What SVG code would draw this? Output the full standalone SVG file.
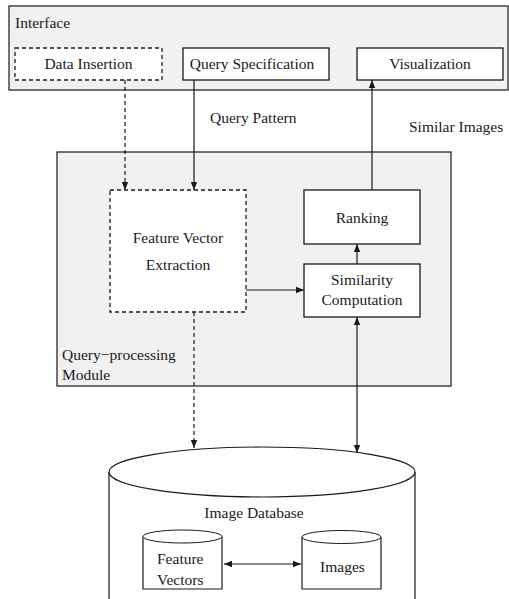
<svg xmlns="http://www.w3.org/2000/svg" width="509" height="599" viewBox="0 0 509 599">
  <style>
    text { font-size: 15.5px; fill: #1a1a1a; }
    .mid { text-anchor: middle; }
    .panel { fill: #f1f1f1; stroke: #2a2a2a; stroke-width: 1.3; }
    .box { fill: #ffffff; stroke: #1a1a1a; stroke-width: 1.3; }
    .dash { stroke-dasharray: 4 3; }
    .wire { fill: none; stroke: #1a1a1a; stroke-width: 1.2; }
  </style>
  <defs>
    <marker id="arrow" viewBox="0 0 10 10" refX="10" refY="5" markerWidth="8" markerHeight="8" markerUnits="userSpaceOnUse" orient="auto-start-reverse">
      <path d="M0,1 L10,5 L0,9 Z" fill="#1a1a1a"/>
    </marker>
  </defs>

  <g font-family="'Liberation Serif', 'Times New Roman', 'DejaVu Serif', serif">
  <!-- Interface panel -->
  <g id="interface">
    <rect class="panel" x="9" y="6" width="499" height="84"/>
    <text x="15" y="28">Interface</text>
  </g>
  <g id="data-insertion">
    <rect class="box dash" x="15" y="48" width="147" height="32"/>
    <text class="mid" x="88.5" y="69">Data Insertion</text>
  </g>
  <g id="query-specification">
    <rect class="box" x="183" y="48" width="146" height="32"/>
    <text class="mid" x="252" y="69">Query Specification</text>
  </g>
  <g id="visualization">
    <rect class="box" x="357" y="48" width="146" height="32"/>
    <text class="mid" x="430" y="69">Visualization</text>
  </g>

  <!-- Query-processing module -->
  <g id="query-processing">
    <rect class="panel" x="57" y="152" width="394" height="234"/>
    <text x="62" y="360">Query−processing</text>
    <text x="62" y="380">Module</text>
  </g>
  <g id="feature-vector-extraction">
    <rect class="box dash" x="110" y="190" width="136" height="122"/>
    <text class="mid" x="178" y="243">Feature Vector</text>
    <text class="mid" x="178" y="270">Extraction</text>
  </g>
  <g id="ranking">
    <rect class="box" x="304" y="190" width="116" height="54"/>
    <text class="mid" x="362" y="223">Ranking</text>
  </g>
  <g id="similarity-computation">
    <rect class="box" x="304" y="264" width="116" height="53"/>
    <text class="mid" x="362" y="285">Similarity</text>
    <text class="mid" x="362" y="305">Computation</text>
  </g>

  <!-- Image database -->
  <g id="image-database">
    <path class="wire" d="M109,472 L109,600 M415,472 L415,600"/>
    <ellipse cx="262" cy="472" rx="153" ry="25" fill="#ffffff" stroke="#1a1a1a" stroke-width="1.2"/>
    <text class="mid" x="254" y="518">Image Database</text>
  </g>
  <g id="feature-vectors">
    <path d="M143,536.5 L143,589 L222,589 L222,536.5" fill="#ffffff" stroke="#1a1a1a" stroke-width="1.2"/>
    <ellipse cx="182.5" cy="536.5" rx="39.5" ry="6.5" fill="#ffffff" stroke="#1a1a1a" stroke-width="1"/>
    <text x="157" y="564">Feature</text>
    <text x="157" y="585">Vectors</text>
  </g>
  <g id="images">
    <path d="M302,537 L302,589 L381,589 L381,537" fill="#ffffff" stroke="#1a1a1a" stroke-width="1.2"/>
    <ellipse cx="341.5" cy="537" rx="39.5" ry="6.5" fill="#ffffff" stroke="#1a1a1a" stroke-width="1"/>
    <text class="mid" x="342.5" y="572">Images</text>
  </g>

  <!-- Connectors -->
  <g id="connectors">
    <path class="wire dash" d="M125,80 L125,190" marker-end="url(#arrow)"/>
    <path class="wire" d="M194,80 L194,190" marker-end="url(#arrow)"/>
    <path class="wire" d="M372,190 L372,80" marker-end="url(#arrow)"/>
    <path class="wire" d="M246,290 L304,290" marker-end="url(#arrow)"/>
    <path class="wire" d="M357,264 L357,244" marker-end="url(#arrow)"/>
    <path class="wire dash" d="M194,312 L194,448" marker-end="url(#arrow)"/>
    <path class="wire" d="M357,453 L357,317" marker-start="url(#arrow)" marker-end="url(#arrow)"/>
    <path class="wire" d="M224,564 L301,564" marker-start="url(#arrow)" marker-end="url(#arrow)"/>
    <text x="210" y="123">Query Pattern</text>
    <text x="409" y="132">Similar Images</text>
  </g>
  </g>
</svg>
